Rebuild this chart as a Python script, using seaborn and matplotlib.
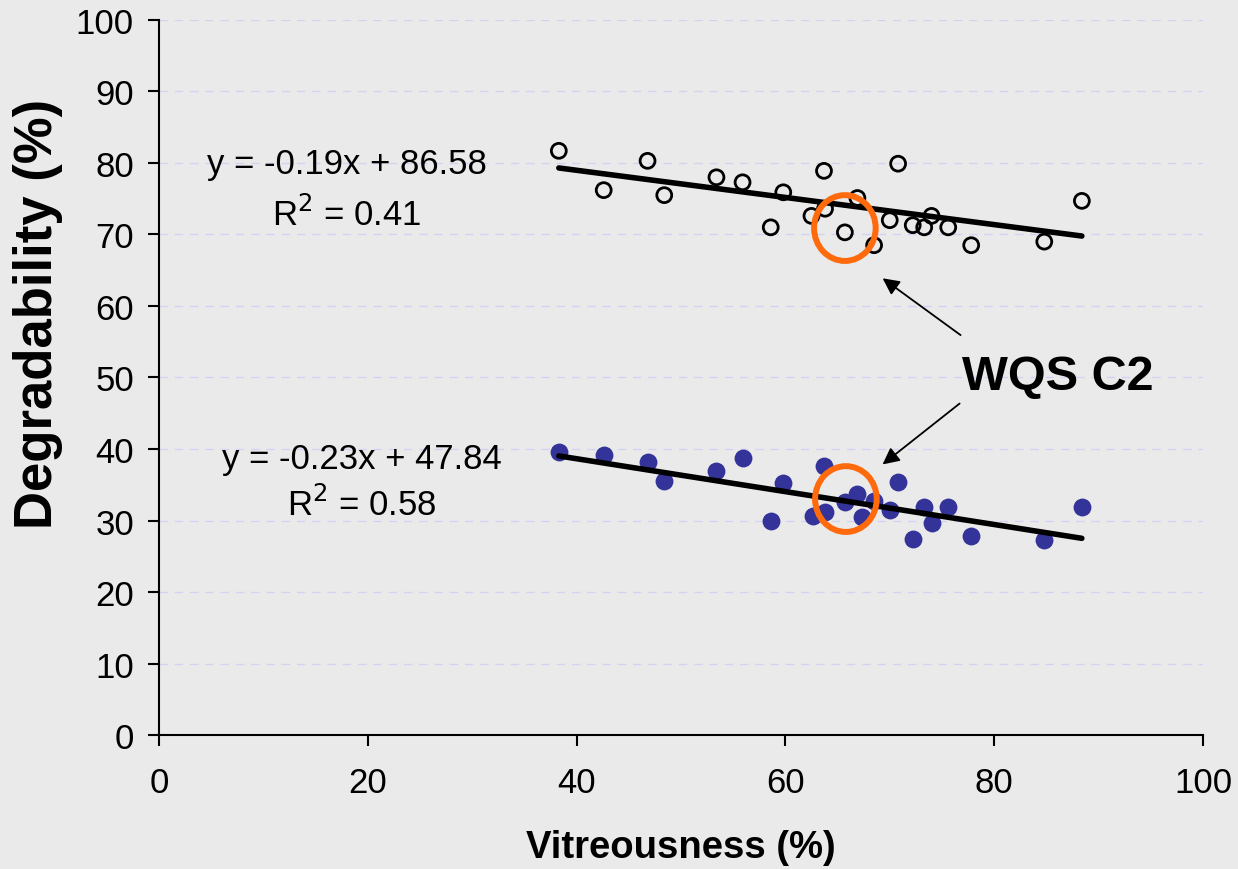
"""
Degradability vs vitreousness with linear trend lines and WQS C2 highlight.
"""

import matplotlib.pyplot as plt
import numpy as np
import pandas as pd
import seaborn as sns
from matplotlib.patches import Ellipse


# Data
vitreousness_upper = [38.3, 42.6, 46.8, 48.4, 53.4, 55.9, 58.6, 59.8, 62.5, 63.7, 63.8, 65.7,
                      66.9, 68.5, 70.0, 70.8, 72.2, 73.3, 74.0, 75.6, 77.8, 84.8, 88.4]
degradability_upper = [81.7, 76.2, 80.3, 75.5, 78.0, 77.3, 71.0, 75.9, 72.6, 78.9, 73.6, 70.3,
                       75.1, 68.5, 72.0, 79.9, 71.3, 71.0, 72.6, 71.0, 68.5, 69.0, 74.7]

vitreousness_lower = [38.3, 42.6, 46.8, 48.4, 53.4, 55.9, 58.6, 59.8, 62.6, 63.7, 63.8, 65.7,
                      66.9, 67.3, 68.5, 70.0, 70.8, 72.2, 73.3, 74.0, 75.6, 77.8, 84.8, 88.4]
degradability_lower = [39.6, 39.2, 38.2, 35.5, 36.9, 38.7, 29.9, 35.2, 30.6, 37.6, 31.2, 32.6,
                       33.7, 30.5, 32.7, 31.5, 35.4, 27.4, 31.9, 29.7, 31.9, 27.8, 27.3, 31.9]

# Trend lines as printed on the chart
slopes = [-0.19, -0.23]
intercepts = [86.58, 47.84]
equations = ["y = -0.19x + 86.58", "y = -0.23x + 47.84"]
r_squared = ["0.41", "0.58"]

# WQS C2 sample
wqs_x = [65.7, 65.8]
wqs_y = [70.9, 33.0]
wqs_label = "WQS C2"

x_ticks = [0, 20, 40, 60, 80, 100]
y_ticks = list(range(0, 101, 10))

BG = "#EAEAEA"
sns.set_theme(style="ticks", rc={
    "axes.facecolor": BG,
    "figure.facecolor": BG,
    "axes.edgecolor": "black",
    "text.color": "black",
    "axes.labelcolor": "black",
    "xtick.color": "black",
    "ytick.color": "black",
})
plt.rcParams["font.family"] = ["Liberation Sans", "DejaVu Sans"]

fig = plt.figure(figsize=(12.38, 8.70), dpi=100)
ax = fig.add_axes([0.1284, 0.154, 0.8433, 0.8219])

# Gridlines
for yv in y_ticks[1:]:
    ax.axhline(yv, color="#D2D2F2", linestyle=(0, (6, 5)), linewidth=1.0, zorder=0)

upper = pd.DataFrame({"x": vitreousness_upper, "y": degradability_upper})
lower = pd.DataFrame({"x": vitreousness_lower, "y": degradability_lower})

sns.scatterplot(data=upper, x="x", y="y", ax=ax, marker="o", s=115,
                facecolor="none", edgecolor="black", linewidth=2.0, zorder=3)
sns.scatterplot(data=lower, x="x", y="y", ax=ax, marker="o", s=165,
                color="#333399", edgecolor="#333399", linewidth=0, zorder=3)

# Trend lines from printed equations
for df, m, b in zip([upper, lower], slopes, intercepts):
    xs = np.array([df["x"].min(), df["x"].max()])
    sns.lineplot(x=xs, y=m * xs + b, ax=ax, color="black", linewidth=4.0, zorder=4)

# Equation labels
eq_pos = [(18.0, 79.9, 72.9), (19.4, 38.7, 32.3)]
for (tx, ty, ry), eq, r2 in zip(eq_pos, equations, r_squared):
    ax.text(tx, ty, eq, fontsize=25, ha="center", va="center")
    ax.text(tx, ry, f"R$^{{2}}$ = {r2}", fontsize=25, ha="center", va="center")

# Highlight circles
for cx, cy in zip(wqs_x, wqs_y):
    ax.add_patch(Ellipse((cx, cy), width=5.9, height=9.2, fill=False,
                         edgecolor="#FF6A0D", linewidth=4.3, zorder=5))

ax.text(76.9, 50.1, wqs_label, fontsize=35, fontweight="bold", ha="left", va="center")
ax.annotate("", xy=(69.1, 64.1), xytext=(77.0, 55.7),
            arrowprops=dict(arrowstyle="-|>", color="black", lw=1.3, mutation_scale=25))
ax.annotate("", xy=(69.1, 37.6), xytext=(76.9, 46.6),
            arrowprops=dict(arrowstyle="-|>", color="black", lw=1.3, mutation_scale=25))

ax.set_xlim(0, 100)
ax.set_ylim(0, 100)
ax.set_xticks(x_ticks)
ax.set_yticks(y_ticks)
ax.tick_params(axis="x", labelsize=25, length=8, width=1.5, pad=14)
ax.tick_params(axis="y", labelsize=25, length=8, width=1.5, pad=10)
ax.set_xlabel("Vitreousness (%)", fontsize=27.5, fontweight="bold", labelpad=22)
ax.set_ylabel("Degradability (%)", fontsize=38, fontweight="bold")
ax.yaxis.set_label_coords(-0.092, 0.59)

for side in ["top", "right"]:
    ax.spines[side].set_visible(False)
for side in ["left", "bottom"]:
    ax.spines[side].set_linewidth(1.5)

plt.savefig("out.png", dpi=100, facecolor=BG)
plt.close()
